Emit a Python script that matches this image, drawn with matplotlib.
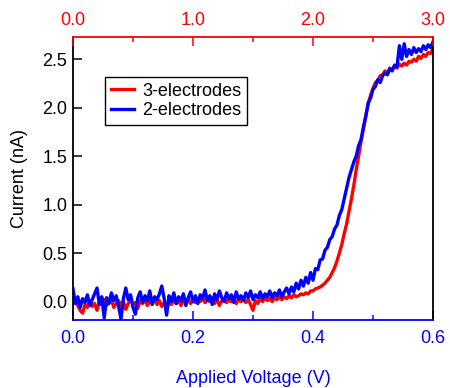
import matplotlib
matplotlib.use("Agg")
import matplotlib.pyplot as plt
from matplotlib.ticker import MultipleLocator

plt.rcParams['font.family'] = ['Liberation Sans', 'DejaVu Sans']

voltage = [
    0.000, 0.004, 0.008, 0.012, 0.016, 0.020, 0.024, 0.028, 0.032, 0.036,
    0.040, 0.044, 0.048, 0.052, 0.056, 0.060, 0.064, 0.068, 0.072, 0.076,
    0.080, 0.084, 0.088, 0.092, 0.096, 0.100, 0.104, 0.108, 0.112, 0.116,
    0.120, 0.124, 0.128, 0.132, 0.136, 0.140, 0.144, 0.148, 0.152, 0.156,
    0.160, 0.164, 0.168, 0.172, 0.176, 0.180, 0.184, 0.188, 0.192, 0.196,
    0.200, 0.204, 0.208, 0.212, 0.216, 0.220, 0.224, 0.228, 0.232, 0.236,
    0.240, 0.244, 0.248, 0.252, 0.256, 0.260, 0.264, 0.268, 0.272, 0.276,
    0.280, 0.284, 0.288, 0.292, 0.296, 0.300, 0.304, 0.308, 0.312, 0.316,
    0.320, 0.324, 0.328, 0.332, 0.336, 0.340, 0.344, 0.348, 0.352, 0.356,
    0.360, 0.364, 0.368, 0.372, 0.376, 0.380, 0.384, 0.388, 0.392, 0.396,
    0.400, 0.404, 0.408, 0.412, 0.416, 0.420, 0.424, 0.428, 0.432, 0.436,
    0.440, 0.444, 0.448, 0.452, 0.456, 0.460, 0.464, 0.468, 0.472, 0.476,
    0.480, 0.484, 0.488, 0.492, 0.496, 0.500, 0.504, 0.508, 0.512, 0.516,
    0.520, 0.524, 0.528, 0.532, 0.536, 0.540, 0.544, 0.548, 0.552, 0.556,
    0.560, 0.564, 0.568, 0.572, 0.576, 0.580, 0.584, 0.588, 0.592, 0.596,
    0.600,
]

current_3el = [
    -0.02, 0.01, -0.04, -0.09, -0.12, -0.03, -0.06, 0.01, -0.05, -0.02,
    -0.09, 0.00, -0.03, 0.02, -0.04, -0.01, 0.02, -0.06, -0.02, 0.01,
    -0.04, 0.00, -0.08, -0.02, 0.02, -0.03, -0.01, -0.07, 0.01, -0.02,
    0.02, -0.04, 0.00, -0.02, 0.03, -0.03, 0.01, -0.05, -0.01, -0.08,
    0.00, -0.03, 0.02, -0.02, 0.01, -0.04, 0.02, -0.01, 0.03, -0.02,
    0.01, -0.01, 0.03, 0.00, 0.04, -0.01, 0.02, 0.00, 0.04, -0.02,
    0.02, -0.04, 0.01, 0.03, -0.01, 0.02, 0.00, 0.03, -0.02, 0.02,
    0.00, 0.03, -0.01, 0.02, -0.03, -0.09, 0.01, -0.02, 0.03, 0.00,
    0.04, 0.01, 0.03, 0.00, 0.04, 0.02, 0.05, 0.02, 0.05, 0.03,
    0.06, 0.04, 0.07, 0.05, 0.06, 0.08, 0.07, 0.09, 0.08, 0.11,
    0.11, 0.13, 0.14, 0.15, 0.17, 0.19, 0.22, 0.25, 0.30, 0.35,
    0.42, 0.50, 0.59, 0.70, 0.80, 0.93, 1.06, 1.20, 1.36, 1.50,
    1.65, 1.78, 1.92, 2.04, 2.13, 2.20, 2.26, 2.28, 2.33, 2.34,
    2.38, 2.36, 2.41, 2.39, 2.43, 2.41, 2.45, 2.43, 2.46, 2.44,
    2.48, 2.47, 2.50, 2.48, 2.53, 2.51, 2.55, 2.53, 2.57, 2.56,
    2.61,
]

current_2el = [
    0.13, -0.02, 0.05, -0.06, 0.03, -0.01, 0.07, -0.04, 0.02, 0.08,
    0.14, -0.03, 0.05, -0.17, 0.04, -0.02, 0.09, 0.01, 0.06, -0.05,
    -0.18, 0.03, 0.14, 0.02, 0.07, -0.06, -0.13, 0.04, 0.10, -0.01,
    0.06, 0.01, 0.11, -0.03, 0.05, 0.02, 0.08, 0.16, 0.03, -0.14,
    0.06, 0.00, 0.09, -0.02, 0.05, 0.01, 0.08, -0.04, 0.04, 0.10,
    0.00, 0.06, -0.02, 0.07, 0.03, 0.12, 0.01, 0.06, -0.03, 0.08,
    0.02, 0.11, 0.04, 0.00, 0.09, 0.03, 0.07, -0.01, 0.10, 0.03,
    0.06, 0.01, 0.09, 0.04, 0.11, 0.02, 0.07, 0.04, 0.10, 0.03,
    0.08, 0.05, 0.11, 0.04, 0.09, 0.06, 0.12, 0.05, 0.10, 0.14,
    0.08, 0.15, 0.10, 0.19, 0.13, 0.22, 0.16, 0.25, 0.19, 0.30,
    0.22, 0.34, 0.33, 0.43, 0.44, 0.53, 0.56, 0.64, 0.67, 0.75,
    0.79, 0.89, 0.95, 1.06, 1.17, 1.28, 1.36, 1.44, 1.50, 1.61,
    1.67, 1.80, 1.91, 2.05, 2.10, 2.19, 2.22, 2.29, 2.26, 2.33,
    2.36, 2.34, 2.40, 2.38, 2.44, 2.42, 2.64, 2.50, 2.66, 2.53,
    2.60, 2.55, 2.62, 2.57, 2.61, 2.58, 2.64, 2.60, 2.65, 2.62,
    2.68,
]

series_labels = ["3-electrodes", "2-electrodes"]
bottom_ticks = [0.0, 0.2, 0.4, 0.6]
top_ticks = [0.0, 1.0, 2.0, 3.0]
left_ticks = [0.0, 0.5, 1.0, 1.5, 2.0, 2.5]

RED = "#ff0000"
BLUE = "#0000ff"
FS = 13

fig = plt.figure(figsize=(4.5, 3.88), dpi=100)
ax = fig.add_axes([73/450, 1-320/388, 360/450, 283/388])

ax.plot(voltage, current_3el, color=RED, lw=2.4, label=series_labels[0])
ax.plot(voltage, current_2el, color=BLUE, lw=2.4, label=series_labels[1])

ax.set_xlim(0, 0.6)
ax.set_ylim(-0.19, 2.73)
ax.set_xticks(bottom_ticks)
ax.set_xticklabels([f"{t:.1f}" for t in bottom_ticks])
ax.xaxis.set_minor_locator(MultipleLocator(0.1))
ax.set_yticks(left_ticks)
ax.set_yticklabels([f"{t:.1f}" for t in left_ticks])

ax.tick_params(axis='x', which='major', direction='in', length=6.5, width=1.1,
               color=BLUE, labelcolor=BLUE, labelsize=FS, pad=7)
ax.tick_params(axis='x', which='minor', direction='in', length=3.6, width=1.1,
               color=BLUE)
ax.tick_params(axis='y', which='major', direction='in', length=6.5, width=1.1,
               color='black', labelcolor='black', labelsize=FS, pad=4)
ax.tick_params(axis='y', right=False)

for s in ['left', 'right']:
    ax.spines[s].set_color('black')
    ax.spines[s].set_linewidth(1.3)
ax.spines['bottom'].set_color(BLUE)
ax.spines['bottom'].set_linewidth(1.3)
ax.spines['top'].set_color(RED)
ax.spines['top'].set_linewidth(1.3)

ax.set_xlabel("Applied Voltage (V)", color=BLUE, fontsize=FS, labelpad=17)
ax.set_ylabel("Current (nA)", color='black', fontsize=FS, labelpad=10)

ax2 = ax.twiny()
ax2.set_xlim(0, 3.0)
ax2.set_xticks(top_ticks)
ax2.set_xticklabels([f"{t:.1f}" for t in top_ticks])
ax2.xaxis.set_minor_locator(MultipleLocator(0.5))
ax2.tick_params(axis='x', which='major', direction='in', length=6.5, width=1.1,
                color=RED, labelcolor=RED, labelsize=FS, pad=6)
ax2.tick_params(axis='x', which='minor', direction='in', length=3.6, width=1.1,
                color=RED)
for s in ax2.spines.values():
    s.set_visible(False)

leg = ax.legend(loc='upper left', bbox_to_anchor=(0.089, 0.859), borderaxespad=0,
                fancybox=False, edgecolor='black', framealpha=1, fontsize=13,
                handlelength=1.3, handletextpad=0.45, labelspacing=0.15,
                borderpad=0.32)
leg.get_frame().set_linewidth(1.0)
for line in leg.get_lines():
    line.set_linewidth(2.4)

fig.savefig("out.png", dpi=100)
